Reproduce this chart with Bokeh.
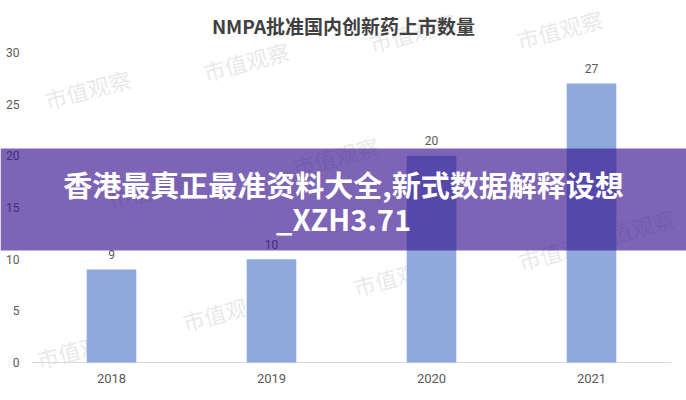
from bokeh.plotting import figure
from bokeh.models import ColumnDataSource, Range1d, FixedTicker, BoxAnnotation, Label
from bokeh.core.properties import value
from bokeh.embed import file_html
from bokeh.resources import INLINE

# ---- data ----
years = ["2018", "2019", "2020", "2021"]
counts = [9, 10, 20, 27]
y_ticks = [0, 5, 10, 15, 20, 25, 30]
title_text = "NMPA批准国内创新药上市数量"
banner_lines = ["香港最真正最准资料大全,新式数据解释设想", "_XZH3.71"]
watermark_text = "市值观察"

BAR = "#8EA9DB"
TXT = "#595959"

PX = 310 / 30  # pixels per unit on the value axis

# category slots: year i occupies [i, i+1], centred at i + 0.5
xpos = [i + 0.5 for i in range(len(years))]
src = ColumnDataSource(dict(x=xpos, years=years, counts=counts,
                            labels=[str(c) for c in counts]))
tick_src = ColumnDataSource(dict(x=[0] * len(y_ticks), y=y_ticks,
                                 t=[str(t) for t in y_ticks]))

# frame spans the full width so the translucent banner can reach both edges
p = figure(width=686, height=400,
           x_range=Range1d(-31 / 160, 655 / 160),
           y_range=Range1d(-8 / PX, 362 / PX),
           y_axis_location=None,
           output_backend="svg", toolbar_location=None,
           min_border_left=0, min_border_right=0,
           min_border_top=0, min_border_bottom=30)
p.outline_line_color = None
p.background_fill_color = "white"
p.border_fill_color = "white"
p.xgrid.grid_line_color = None
p.ygrid.grid_line_color = None

# x axis (year labels)
p.xaxis.ticker = FixedTicker(ticks=xpos)
p.xaxis.major_label_overrides = {x: y for x, y in zip(xpos, years)}
p.xaxis.axis_line_color = None
p.xaxis.major_tick_line_color = None
p.xaxis.minor_tick_line_color = None
p.xaxis.major_tick_out = 0
p.xaxis.major_tick_in = 0
p.xaxis.minor_tick_out = 0
p.xaxis.major_label_standoff = 3
p.xaxis.major_label_text_font = "Roboto"
p.xaxis.major_label_text_font_size = "13px"
p.xaxis.major_label_text_color = TXT

# baseline across the category slots
p.line(x=[0, len(years)], y=[0, 0], line_color="#D9D9D9", line_width=1)

# y tick labels
p.text(x="x", y="y", text="t", source=tick_src, x_offset=-12,
       text_align="right", text_baseline="middle",
       text_font=value("Roboto"), text_font_size="12px", text_color=TXT)

# watermarks (decorative, faint)
wm_pos = [(0.35, 26.5), (1.34, 29.2), (2.38, 32.0), (3.3, 32.3),
          (0.3, 1.4), (1.21, 5.0), (2.28, 8.4), (3.31, 10.9), (3.75, 13.0),
          (0.75, 16.8), (1.9, 20.0)]
for wx, wy in wm_pos:
    p.add_layout(Label(x=wx, y=wy, text=watermark_text, angle=0.26,
                       text_align="center", text_baseline="middle",
                       text_font="Noto Sans CJK SC", text_font_size="22px",
                       text_color="#BDBDBD", text_alpha=0.35, level="underlay"))

# bars
p.vbar(x="x", top="counts", width=0.31, source=src,
       fill_color=BAR, line_color=None)

# value labels
p.text(x="x", y="counts", text="labels", source=src,
       text_align="center", text_baseline="middle", y_offset=-15,
       text_font=value("Roboto"), text_font_size="12px", text_color=TXT)

# title
p.add_layout(Label(x=1.95, y=32.62, text=title_text,
                   text_align="center", text_baseline="middle",
                   text_font="Noto Sans CJK SC", text_font_style="bold",
                   text_font_size="19px", text_color="#404040"))

# banner overlay across the whole width
p.add_layout(BoxAnnotation(bottom=10.84, top=20.71,
                           fill_color="#3A1390", fill_alpha=0.66,
                           line_color=None, level="annotation"))
for txt, yy in zip(banner_lines, [17.23, 13.94]):
    p.add_layout(Label(x=1.95, y=yy, text=txt,
                       text_align="center", text_baseline="middle",
                       text_font="Noto Sans CJK SC", text_font_style="bold",
                       text_font_size="29px", text_color="white", level="overlay"))

open("out.html", "w").write(file_html(p, INLINE))
